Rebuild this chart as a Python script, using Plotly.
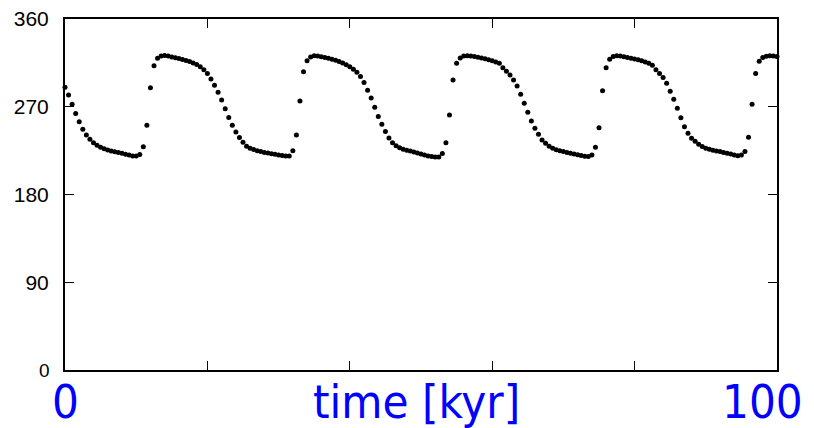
import plotly.graph_objects as go

# time in kyr, sampled every 0.5 kyr
time_kyr = [i * 0.5 for i in range(201)]

angle = [
    290, 282, 272.5, 263, 254.7, 247, 241, 236.6, 233, 230.5,
    228.5, 227, 225.7, 224.7, 223.8, 223, 222.2, 221.3, 220.5, 219.5,
    219.5, 221, 229, 251, 289.5, 312, 319.7, 322, 322.5, 322,
    321, 320.2, 319.4, 318.5, 317.5, 316.3, 315, 313.3, 311, 308,
    304, 298.5, 292, 285, 277, 268, 259, 251, 244, 238.5,
    233.5, 229.5, 227.5, 226.2, 225, 224, 223.2, 222.5, 221.8, 221.2,
    220.6, 220, 219.5, 219.5, 225, 241, 276, 306, 317.2, 321,
    322.3, 322, 321.3, 320.5, 319.7, 318.8, 317.8, 316.5, 315, 313,
    311, 308.5, 305.5, 301, 295, 287, 279, 269.5, 260, 252,
    244.5, 238, 233, 230, 228, 226.5, 225.5, 224.5, 223.5, 222.5,
    221.5, 220.5, 219.5, 219, 218.5, 218.5, 222, 233, 261.5, 297.4,
    314.5, 320, 322, 322.3, 322, 321.5, 320.8, 320, 319.2, 318.3,
    317.2, 316, 314.5, 310, 306.5, 302.6, 297.4, 291.3, 282.7, 273.5,
    264.3, 255.4, 247.9, 241.7, 236, 232.5, 229.5, 227.5, 226, 225,
    224.2, 223.2, 222.3, 221.5, 220.7, 220, 219.2, 219, 220.5, 228.4,
    248.5, 286.5, 310, 318.7, 321.5, 322.3, 322, 321.3, 320.5, 319.8,
    319, 318.2, 317.2, 316, 314.5, 312.5, 308, 304, 300, 294,
    286, 277.6, 268.4, 258.8, 249.6, 242.8, 237.6, 234.5, 231.5, 229.3,
    227.4, 226.3, 225.4, 224.6, 224, 223.2, 222.4, 221.5, 220.5, 219.8,
    220.5, 224, 238.6, 272.5, 304, 316.6, 320.5, 321.8, 322.3, 322,
    321.5,
]

y_tick_vals = [0, 90, 180, 270, 360]
y_tick_text = ["", "90", "180", "270", "360"]
x_tick_vals = [0, 20, 40, 60, 80, 100]

fig = go.Figure()
fig.add_trace(go.Scatter(
    x=time_kyr, y=angle, mode="markers",
    marker=dict(color="black", size=5, line=dict(width=0)),
    showlegend=False, cliponaxis=False,
))

# the page body has an 8px margin, so the figure is sized to fit inside it
fig.update_layout(
    width=806, height=420,
    margin=dict(l=57, r=37, t=11, b=58, autoexpand=False),
    plot_bgcolor="white", paper_bgcolor="white",
    font=dict(family="Liberation Sans, Arial", color="black"),
)
fig.update_xaxes(
    range=[0, 100], tickvals=x_tick_vals, showticklabels=False,
    ticks="inside", ticklen=9, tickwidth=1, tickcolor="black",
    showline=True, linewidth=2, linecolor="black", mirror="ticks",
    showgrid=False, zeroline=False,
)
fig.update_yaxes(
    range=[0, 360], tickvals=y_tick_vals, ticktext=y_tick_text,
    ticks="inside", ticklen=9, tickwidth=1, tickcolor="black",
    tickfont=dict(size=21, family="Liberation Sans, Arial", color="black"),
    ticklabelstandoff=10, ticklabeloverflow="allow",
    showline=True, linewidth=2, linecolor="black", mirror="ticks",
    showgrid=False, zeroline=False,
)

blue_font = dict(family="DejaVu Sans Condensed, DejaVu Sans", size=47, color="#0000FF")
fig.add_annotation(x=0, y=0, xref="x", yref="y", text="0", showarrow=False,
                   font=dict(size=19, family="Liberation Sans, Arial", color="black"),
                   xanchor="right", yanchor="middle", xshift=-13)
fig.add_annotation(x=0, y=0, xref="x", yref="y", text="0", showarrow=False,
                   font=blue_font, xanchor="center", yanchor="top", yshift=-2)
fig.add_annotation(x=49.4, y=0, xref="x", yref="y", text="time [kyr]", showarrow=False,
                   font=blue_font, xanchor="center", yanchor="top", yshift=-2)
fig.add_annotation(x=98, y=0, xref="x", yref="y", text="100", showarrow=False,
                   font=blue_font, xanchor="center", yanchor="top", yshift=-2)

fig.write_html("out.html")
